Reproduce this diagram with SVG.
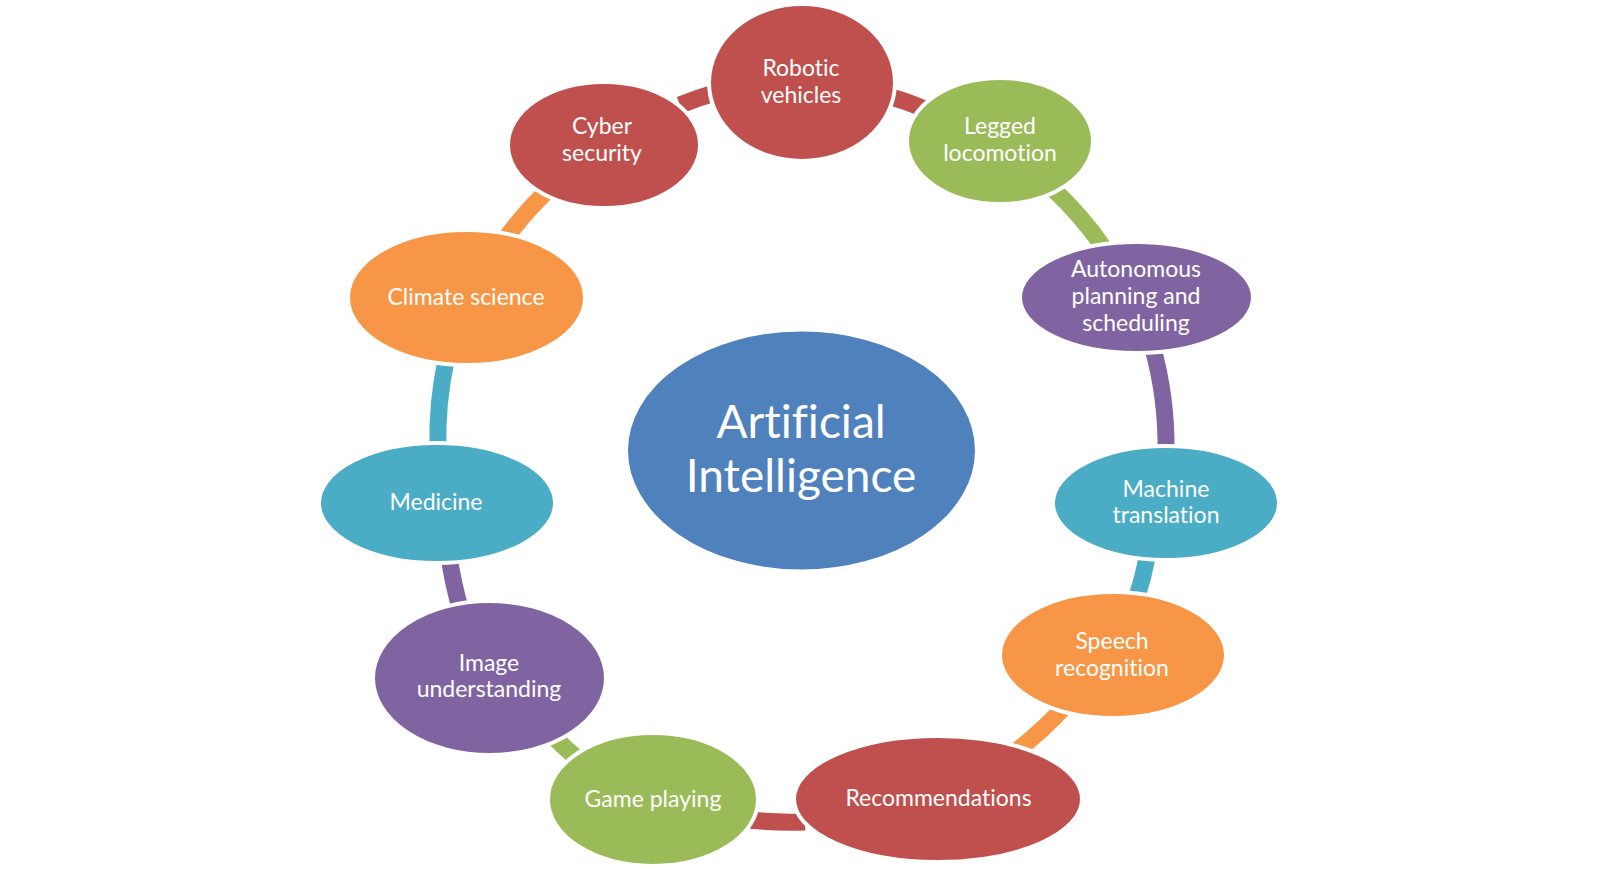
<svg xmlns="http://www.w3.org/2000/svg" width="1598" height="870" viewBox="0 0 1598 870">
<style>
  .n { stroke: #FFFFFF; stroke-width: 4; }
  .red { fill: #C0504D; } .green { fill: #9BBB59; } .purple { fill: #8064A2; }
  .teal { fill: #4BACC6; } .orange { fill: #F79646; } .blue { fill: #4F81BD; }
  .c { fill: none; stroke-width: 17; }
  .t { font-family: Lato, "Open Sans", sans-serif; font-size: 23px; fill: #FFFFFF; text-anchor: middle; font-variant-ligatures: none; }
  .big { font-size: 46px; }
</style>
<rect width="1598" height="870" fill="#FFFFFF"/>
<g id="connectors">
  <path class="c" stroke="#C0504D" d="M680,105 A370,370 0 0 1 718,92"/>
  <path class="c" stroke="#C0504D" d="M885,95 A370,370 0 0 1 930,111"/>
  <path class="c" stroke="#9BBB59" d="M1052,188 A370,370 0 0 1 1104,248"/>
  <path class="c" stroke="#8064A2" d="M1152,345 A370,370 0 0 1 1166,452"/>
  <path class="c" stroke="#4BACC6" d="M1148,553 A370,370 0 0 1 1136,600"/>
  <path class="c" stroke="#F79646" d="M1066,705 A370,370 0 0 1 1015,752"/>
  <path class="c" stroke="#C0504D" d="M805,822 A370,370 0 0 1 735,818"/>
  <path class="c" stroke="#9BBB59" d="M585,765 A370,370 0 0 1 550,733"/>
  <path class="c" stroke="#8064A2" d="M461,611 A370,370 0 0 1 449,556"/>
  <path class="c" stroke="#4BACC6" d="M438,450 A370,370 0 0 1 447,356"/>
  <path class="c" stroke="#F79646" d="M503,242 A370,370 0 0 1 548,190"/>
</g>
<g id="node-ai">
  <ellipse class="n blue" cx="801.5" cy="450.5" rx="175.5" ry="121"/>
  <text class="t big" x="801" y="438">Artificial</text>
  <text class="t big" x="801" y="492">Intelligence</text>
</g>
<g id="node-robotic">
  <ellipse class="n red" cx="802" cy="82.5" rx="93" ry="78.5"/>
  <text class="t" x="801" y="76">Robotic</text>
  <text class="t" x="801" y="103">vehicles</text>
</g>
<g id="node-cyber">
  <ellipse class="n red" cx="604" cy="145" rx="96" ry="63"/>
  <text class="t" x="602" y="134">Cyber</text>
  <text class="t" x="602" y="161">security</text>
</g>
<g id="node-legged">
  <ellipse class="n green" cx="1000" cy="141" rx="93" ry="63"/>
  <text class="t" x="1000" y="134">Legged</text>
  <text class="t" x="1000" y="161">locomotion</text>
</g>
<g id="node-autonomous">
  <ellipse class="n purple" cx="1136.5" cy="297.5" rx="116.5" ry="55.5"/>
  <text class="t" x="1136" y="277">Autonomous</text>
  <text class="t" x="1136" y="304">planning and</text>
  <text class="t" x="1136" y="331">scheduling</text>
</g>
<g id="node-machine">
  <ellipse class="n teal" cx="1166" cy="503" rx="113" ry="57"/>
  <text class="t" x="1166" y="497">Machine</text>
  <text class="t" x="1166" y="523">translation</text>
</g>
<g id="node-speech">
  <ellipse class="n orange" cx="1113" cy="655" rx="113" ry="63"/>
  <text class="t" x="1112" y="649">Speech</text>
  <text class="t" x="1112" y="676">recognition</text>
</g>
<g id="node-recommendations">
  <ellipse class="n red" cx="938" cy="799" rx="144" ry="63"/>
  <text class="t" x="938.5" y="806">Recommendations</text>
</g>
<g id="node-game">
  <ellipse class="n green" cx="653" cy="799.5" rx="105" ry="66.5"/>
  <text class="t" x="653" y="807">Game playing</text>
</g>
<g id="node-image">
  <ellipse class="n purple" cx="489.5" cy="678" rx="116.5" ry="77"/>
  <text class="t" x="489" y="671">Image</text>
  <text class="t" x="489" y="697">understanding</text>
</g>
<g id="node-medicine">
  <ellipse class="n teal" cx="437" cy="503" rx="118" ry="60"/>
  <text class="t" x="436" y="510">Medicine</text>
</g>
<g id="node-climate">
  <ellipse class="n orange" cx="466.5" cy="297.5" rx="118.5" ry="67.5"/>
  <text class="t" x="466" y="305">Climate science</text>
</g>
</svg>
